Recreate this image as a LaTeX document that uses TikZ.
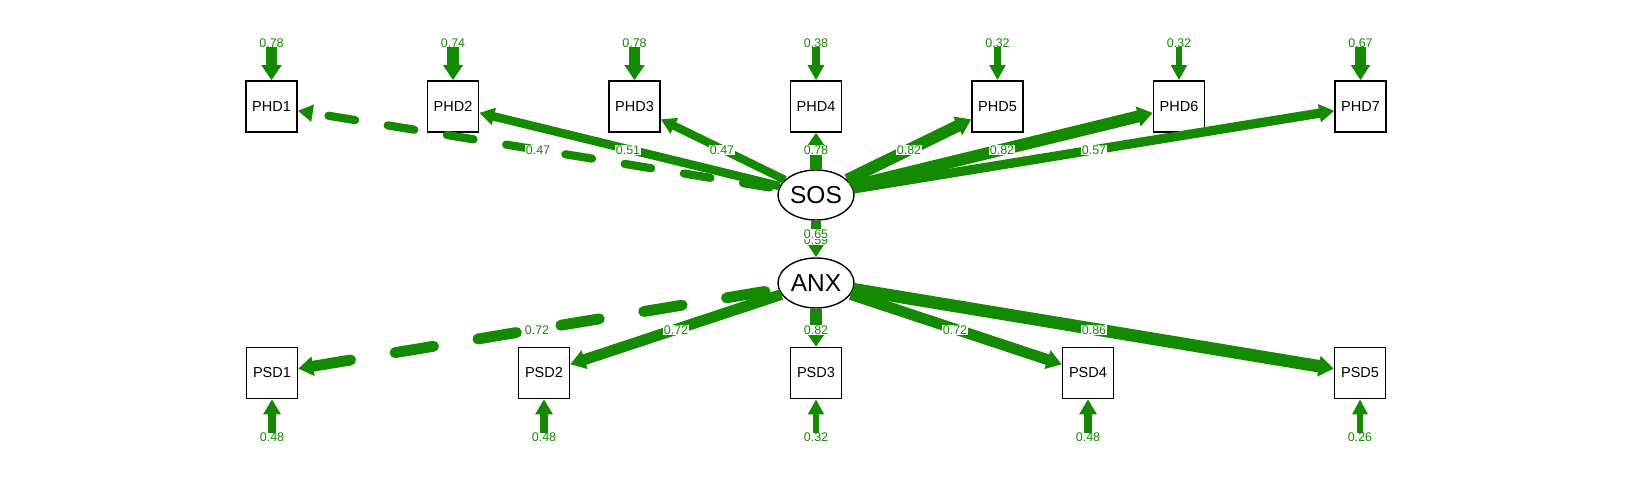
\documentclass[tikz,border=0pt]{standalone}
\usepackage{fontspec}
\setmainfont{Liberation Sans}
\usetikzlibrary{arrows.meta,shapes.geometric}
\definecolor{pg}{RGB}{20,138,0}
\begin{document}
\begin{tikzpicture}[x=1pt,y=-1pt,
 obs/.style={draw=black,line width=1.6pt,minimum width=51pt,minimum height=51pt,inner sep=0pt,font=\fontsize{14.5}{17}\selectfont},
 lat/.style={ellipse,draw=black,line width=1.4pt,minimum width=76pt,minimum height=50pt,inner sep=0pt,font=\fontsize{24.5}{28}\selectfont},
 edge/.style={draw=pg,line width=#1,-{Triangle[length=15pt,width=10pt 0.8]}},
 redge/.style={draw=pg,line width=#1,line cap=round,{Triangle[length=15pt,width=10pt 0.8]}-},
 elab/.style={text=pg,fill=white,inner sep=0.8pt,font=\fontsize{12.5}{14}\selectfont},
 rlab/.style={text=pg,inner sep=0pt,font=\fontsize{12.5}{14}\selectfont}]
\useasboundingbox (0,0) rectangle (1632,480);
% latent nodes
\node[lat] (sos) at (816,195) {SOS};
\node[lat] (anx) at (816,283) {ANX};
% indicators
\node[obs] (phd1) at (271.5,106.5) {PHD1};
\node[obs] (phd2) at (453,106.5) {PHD2};
\node[obs] (phd3) at (634.5,106.5) {PHD3};
\node[obs] (phd4) at (816,106.5) {PHD4};
\node[obs] (phd5) at (997.5,106.5) {PHD5};
\node[obs] (phd6) at (1179,106.5) {PHD6};
\node[obs] (phd7) at (1360.5,106.5) {PHD7};
\node[obs] (psd1) at (272,373) {PSD1};
\node[obs] (psd2) at (544,373) {PSD2};
\node[obs] (psd3) at (816,373) {PSD3};
\node[obs] (psd4) at (1088,373) {PSD4};
\node[obs] (psd5) at (1360,373) {PSD5};
% residual starts
\coordinate (r1) at (271.5,47);
\coordinate (r2) at (453,47);
\coordinate (r3) at (634.5,47);
\coordinate (r4) at (816,47);
\coordinate (r5) at (997.5,47);
\coordinate (r6) at (1179,47);
\coordinate (r7) at (1360.5,47);
\coordinate (s1) at (272,433);
\coordinate (s2) at (544,433);
\coordinate (s3) at (816,433);
\coordinate (s4) at (1088,433);
\coordinate (s5) at (1360,433);
% residual arrows
\draw[edge=11.6pt] (r1) -- (phd1);
\draw[edge=11.1pt] (r2) -- (phd2);
\draw[edge=11.6pt] (r3) -- (phd3);
\draw[edge=7.2pt] (r4) -- (phd4);
\draw[edge=6.5pt] (r5) -- (phd5);
\draw[edge=6.5pt] (r6) -- (phd6);
\draw[edge=10.4pt] (r7) -- (phd7);
\draw[edge=8.3pt] (s1) -- (psd1);
\draw[edge=8.3pt] (s2) -- (psd2);
\draw[edge=6.5pt] (s3) -- (psd3);
\draw[edge=8.3pt] (s4) -- (psd4);
\draw[edge=5.9pt] (s5) -- (psd5);
% loadings
\draw[redge=8.2pt,dash pattern=on 27pt off 33pt,dash phase=43pt] (phd1) -- (sos);
\draw[edge=8.6pt] (sos) -- (phd2);
\draw[edge=8.2pt] (sos) -- (phd3);
\draw[edge=11.6pt] (sos) -- (phd4);
\draw[edge=12pt] (sos) -- (phd5);
\draw[edge=12pt] (sos) -- (phd6);
\draw[edge=9.3pt] (sos) -- (phd7);
\draw[edge=10.2pt] (sos) -- (anx);
\draw[redge=10.9pt,dash pattern=on 39pt off 45pt] (psd1) -- (anx);
\draw[edge=10.9pt] (anx) -- (psd2);
\draw[edge=12pt] (anx) -- (psd3);
\draw[edge=10.9pt] (anx) -- (psd4);
\draw[edge=12.5pt] (anx) -- (psd5);
% edge labels
\node[elab] (l1) at (538,150) {0.47};
\node[elab] (l2) at (628,150) {0.51};
\node[elab] (l3) at (722,150) {0.47};
\node[elab] (l4) at (816,150) {0.78};
\node[elab] (l5) at (909,150) {0.82};
\node[elab] (l6) at (1002,150) {0.82};
\node[elab] (l7) at (1094,150) {0.57};
\node[elab] (la2) at (816,240) {0.59};
\node[elab] (la1) at (816,234) {0.65};
\node[elab] (m1) at (537,330) {0.72};
\node[elab] (m2) at (676,330) {0.72};
\node[elab] (m3) at (816,330) {0.82};
\node[elab] (m4) at (955,330) {0.72};
\node[elab] (m5) at (1094,330) {0.86};
% residual labels
\node[rlab] (t1) at (271.5,43.5) {0.78};
\node[rlab] (t2) at (453,43.5) {0.74};
\node[rlab] (t3) at (634.5,43.5) {0.78};
\node[rlab] (t4) at (816,43.5) {0.38};
\node[rlab] (t5) at (997.5,43.5) {0.32};
\node[rlab] (t6) at (1179,43.5) {0.32};
\node[rlab] (t7) at (1360.5,43.5) {0.67};
\node[rlab] (b1) at (272,437) {0.48};
\node[rlab] (b2) at (544,437) {0.48};
\node[rlab] (b3) at (816,437) {0.32};
\node[rlab] (b4) at (1088,437) {0.48};
\node[rlab] (b5) at (1360,437) {0.26};
\end{tikzpicture}
\end{document}
